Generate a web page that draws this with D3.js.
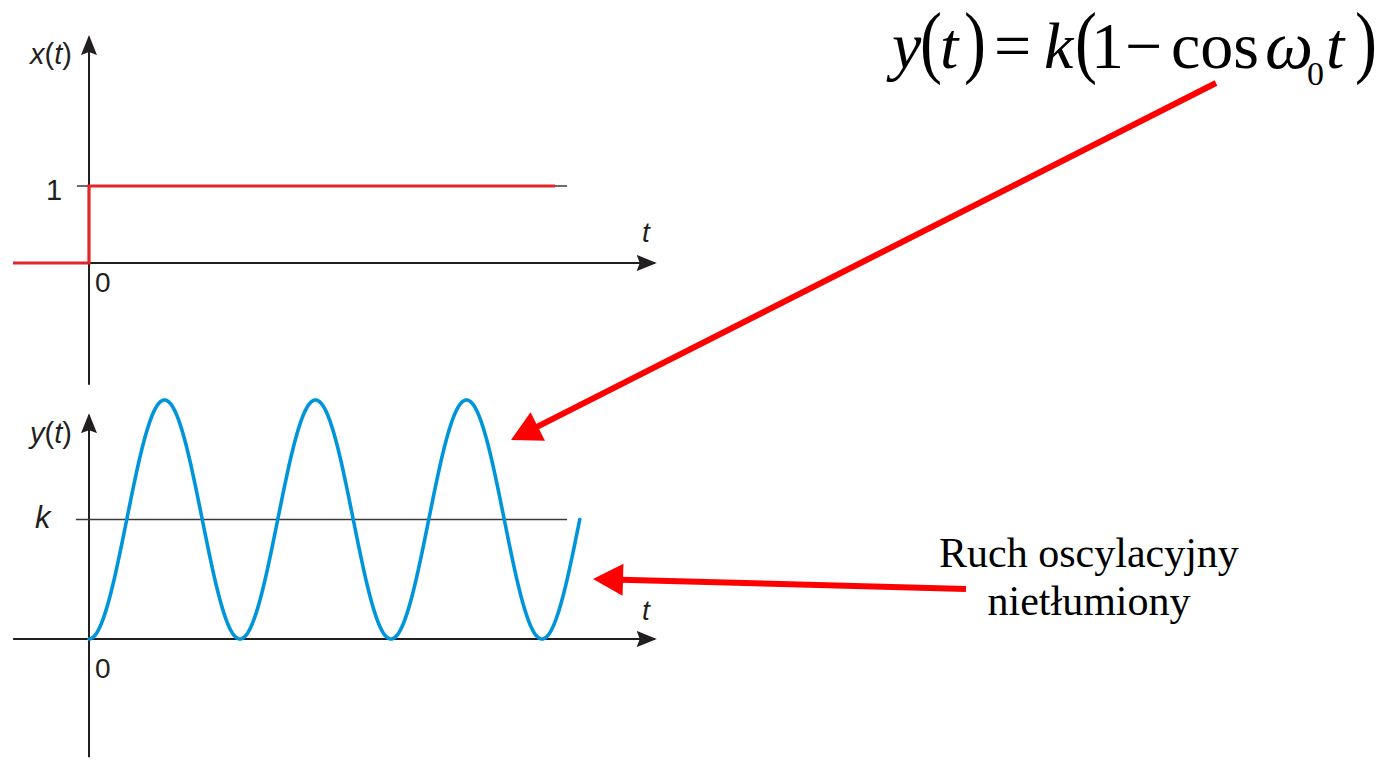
<!DOCTYPE html>
<html>
<head>
<meta charset="utf-8">
<script src="https://cdn.jsdelivr.net/npm/d3@7/dist/d3.min.js"></script>
<style>
  html, body { margin: 0; padding: 0; background: #fff; }
  svg { display: block; }
  .lbl { font-family: "Liberation Sans", Arial, sans-serif; fill: #231f20; }
  .math { font-family: "Liberation Serif", "Times New Roman", serif; fill: #000; }
</style>
</head>
<body>
<svg id="chart" width="1378" height="760"></svg>
<script>
// Time axis (in periods of the oscillation) shared by both panels
const timeDomain = [-0.503, 3.76];

// Input: unit step x(t)
const stepTimes  = [-0.503, 0, 0, 3.086];
const stepValues = [0, 0, 1, 1];
const stepTicks  = [1];
const stepTickLabels = ["1"];

// Output: y(t) = k(1 - cos w0 t)
const kValue = 1;
const omega0 = 2 * Math.PI;          // one period per time unit
const responseRange = [0, 3.25];
const responseTicks = [kValue];
const responseTickLabels = ["k"];

const svg = d3.select("#chart");
const ink = "#231f20";

const x = d3.scaleLinear().domain([0, 1]).range([89, 240]);
const yTop = d3.scaleLinear().domain([0, 1]).range([263, 186]);
const yBot = d3.scaleLinear().domain([0, 2 * kValue]).range([639, 400]);

const defs = svg.append("defs");
// axis arrowhead, slightly notched
defs.append("marker")
  .attr("id", "axisHead").attr("viewBox", "0 0 20 16")
  .attr("refX", 18).attr("refY", 8)
  .attr("markerWidth", 20).attr("markerHeight", 16)
  .attr("markerUnits", "userSpaceOnUse").attr("orient", "auto")
  .append("path").attr("d", "M0,0 L20,8 L0,16 L3,8 Z").attr("fill", ink);

function panel(yScale, yRange, label, pos) {
  const g = svg.append("g");
  // horizontal time axis
  g.append("line")
    .attr("x1", x(timeDomain[0])).attr("x2", x(timeDomain[1]) - 2)
    .attr("y1", yScale(0)).attr("y2", yScale(0))
    .attr("stroke", ink).attr("stroke-width", 2)
    .attr("marker-end", "url(#axisHead)");
  // vertical value axis
  g.append("line")
    .attr("x1", x(0)).attr("x2", x(0))
    .attr("y1", yScale(yRange[0])).attr("y2", yScale(yRange[1]) + 2)
    .attr("stroke", ink).attr("stroke-width", 2)
    .attr("marker-end", "url(#axisHead)");
  g.append("text").attr("class", "lbl")
    .attr("x", 95).attr("y", pos.zeroY)
    .attr("font-size", 28).text("0");
  g.append("text").attr("class", "lbl")
    .attr("x", 642).attr("y", pos.tY)
    .attr("font-size", 28).attr("font-style", "italic").text("t");
  const lab = g.append("text").attr("class", "lbl")
    .attr("x", 30).attr("y", pos.labelY)
    .attr("font-size", 29).attr("font-style", "italic");
  lab.append("tspan").text(label);
  lab.append("tspan").attr("font-style", "normal").text("(");
  lab.append("tspan").text("t");
  lab.append("tspan").attr("font-style", "normal").text(")");
  return g;
}

// ----- top panel: step input
const gTop = panel(yTop, [-1.58, 2.96], "x", { zeroY: 292, tY: 242, labelY: 64 });
gTop.selectAll(".refline").data(stepTicks).join("line")
  .attr("x1", x(-0.08)).attr("x2", x(3.166))
  .attr("y1", d => yTop(d)).attr("y2", d => yTop(d))
  .attr("stroke", "#3a3a3a").attr("stroke-width", 1.6);
gTop.selectAll(".ticklab").data(stepTickLabels).join("text")
  .attr("class", "lbl").attr("x", 46).attr("y", (d, i) => yTop(stepTicks[i]) + 14)
  .attr("font-size", 29).text(d => d);

const stepLine = d3.line().x((d, i) => x(stepTimes[i])).y(d => yTop(d));
gTop.append("path").datum(stepValues)
  .attr("d", stepLine).attr("fill", "none")
  .attr("stroke", "#e2262a").attr("stroke-width", 3.2);

// ----- bottom panel: oscillating response
const gBot = panel(yBot, [-0.99, 1.89], "y", { zeroY: 678, tY: 620, labelY: 443 });
gBot.selectAll(".refline").data(responseTicks).join("line")
  .attr("x1", x(-0.087)).attr("x2", x(3.166))
  .attr("y1", d => yBot(d)).attr("y2", d => yBot(d))
  .attr("stroke", "#3a3a3a").attr("stroke-width", 1.6);
gBot.selectAll(".ticklab").data(responseTickLabels).join("text")
  .attr("class", "lbl").attr("x", 35).attr("y", (d, i) => yBot(responseTicks[i]) + 8)
  .attr("font-size", 31).attr("font-style", "italic").text(d => d);

const response = t => kValue * (1 - Math.cos(omega0 * t));
const curve = d3.line()
  .x(t => x(t)).y(t => yBot(response(t)))
  .curve(d3.curveLinear);
gBot.append("path")
  .datum(d3.range(responseRange[0], responseRange[1] + 1e-9, 0.005))
  .attr("d", curve).attr("fill", "none")
  .attr("stroke", "#0095da").attr("stroke-width", 3.6)
  .attr("stroke-linecap", "round");

// ----- annotation arrows
function redArrow(x1, y1, x2, y2) {
  const ang = Math.atan2(y2 - y1, x2 - x1);
  const len = 30, half = 16;
  const bx = x2 - len * Math.cos(ang), by = y2 - len * Math.sin(ang);
  svg.append("line")
    .attr("x1", x1).attr("y1", y1).attr("x2", bx + 2 * Math.cos(ang)).attr("y2", by + 2 * Math.sin(ang))
    .attr("stroke", "#ff0000").attr("stroke-width", 6);
  const px = -Math.sin(ang) * half, py = Math.cos(ang) * half;
  svg.append("path")
    .attr("d", `M${x2},${y2} L${bx + px},${by + py} L${bx - px},${by - py} Z`)
    .attr("fill", "#ff0000");
}
redArrow(1216, 83, 511, 440);
redArrow(966, 589, 593, 579);

// ----- formula
const fs = 66, base = 68;
function m(txt, xPos, opts = {}) {
  const t = svg.append("text").attr("class", "math")
    .attr("x", xPos).attr("y", opts.y || base)
    .attr("font-size", opts.size || fs).text(txt);
  if (opts.italic) t.attr("font-style", "italic");
  return t;
}
function paren(txt, xPos) {
  svg.append("text").attr("class", "math")
    .attr("transform", `translate(${xPos},${base}) scale(1,1.22)`)
    .attr("font-size", fs).text(txt);
}
m("y", 892, { italic: true });
paren("(", 920);
m("t", 940, { italic: true });
paren(")", 964);
m("=", 994);
m("k", 1044, { italic: true });
paren("(", 1075);
m("1", 1091);
m("\u2212", 1125);
m("cos", 1171);
m("\u03c9", 1265, { italic: true, size: 68 });
m("0", 1307, { size: 34, y: 85 });
m("t", 1326, { italic: true });
paren(")", 1355);

// ----- caption
const cap = svg.append("text").attr("class", "math")
  .attr("text-anchor", "middle").attr("font-size", 42);
cap.append("tspan").attr("x", 1089).attr("y", 567).text("Ruch oscylacyjny");
cap.append("tspan").attr("x", 1089).attr("y", 615).text("nietłumiony");
</script>
</body>
</html>
